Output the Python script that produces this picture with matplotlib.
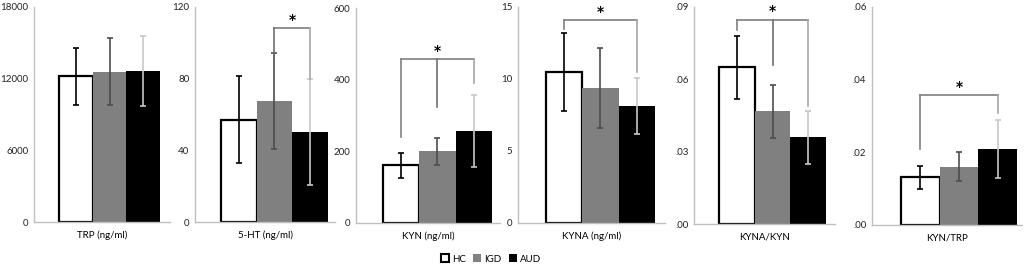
import matplotlib
matplotlib.use("Agg")
import matplotlib.pyplot as plt
from matplotlib.patches import Patch
import numpy as np

plt.rcParams["font.family"] = ["Lato", "DejaVu Sans"]

groups = ["HC", "IGD", "AUD"]
labels = ["TRP (ng/ml)", "5-HT (ng/ml)", "KYN (ng/ml)", "KYNA (ng/ml)", "KYNA/KYN", "KYN/TRP"]

trp_mean = [12200, 12600, 12650]
trp_sd = [2400, 2780, 2900]
ht_mean = [57.2, 67.5, 50.2]
ht_sd = [24.3, 26.8, 29.5]
kyn_mean = [161, 200, 257]
kyn_sd = [35, 37, 100]
kyna_mean = [10.5, 9.4, 8.15]
kyna_sd = [2.7, 2.77, 1.95]
ratio1_mean = [0.065, 0.0467, 0.036]
ratio1_sd = [0.013, 0.011, 0.011]
ratio2_mean = [0.0131, 0.0160, 0.0210]
ratio2_sd = [0.0031, 0.0040, 0.0080]

means = [trp_mean, ht_mean, kyn_mean, kyna_mean, ratio1_mean, ratio2_mean]
sds = [trp_sd, ht_sd, kyn_sd, kyna_sd, ratio1_sd, ratio2_sd]

ymaxs = [18000, 120, 600, 15, 0.09, 0.06]
yticks = [[0, 6000, 12000, 18000], [0, 40, 80, 120], [0, 200, 400, 600],
          [0, 5, 10, 15], [0, 0.03, 0.06, 0.09], [0, 0.02, 0.04, 0.06]]
ytick_labels = [["0", "6000", "12000", "18000"], ["0", "40", "80", "120"],
                ["0", "200", "400", "600"], ["0", "5", "10", "15"],
                [".00", ".03", ".06", ".09"], [".00", ".02", ".04", ".06"]]

# significance brackets: (bar indices, leg bottoms, bracket top)
brackets = [None,
            ([1, 2], [94.5, 80], 108.3),
            ([0, 1, 2], [240, 323, 392], 457),
            ([0, 2], [13.5, 10.5], 14.1),
            ([0, 1, 2], [0.0806, 0.066, 0.049], 0.0847),
            ([0, 2], [0.0209, 0.0309], 0.0357)]

# pixel layout: axis x, first bar x, bar width, right end, baseline y, top y
layout = [(34, 59, 33.7, 170, 222, 7),
          (195, 221, 35.5, 335, 222, 7),
          (356, 383, 36.3, 500, 223, 8),
          (518, 546, 36.3, 665, 223, 7),
          (694, 719, 35.7, 835, 224, 7),
          (872, 901, 38.7, 1022, 225, 7)]

W, H = 1024, 265
fig = plt.figure(figsize=(W / 100, H / 100), dpi=100)

fills = ["white", "#808080", "black"]
err_colors = ["black", "#4d4d4d", "#c8c8c8"]
leg_colors = ["#808080", "#6e6e6e", "#a6a6a6"]
x = np.arange(3)

for i in range(6):
    L, b0, bw, R, yb, yt = layout[i]
    ax = fig.add_axes([L / W, (H - yb) / H, (R - L) / W, (yb - yt) / H])
    for j in range(3):
        ax.bar(x[j], means[i][j], width=1.0, color=fills[j],
               edgecolor="black" if j == 0 else fills[j],
               linewidth=1.6 if j == 0 else 0, zorder=2)
        ax.errorbar(x[j], means[i][j], yerr=sds[i][j], color=err_colors[j],
                    capsize=2.5, elinewidth=1.2, capthick=1.2, zorder=3)
    ax.set_xlim(-0.5 - (b0 - L) / bw, 2.5 + (R - b0 - 3 * bw) / bw)
    ax.set_ylim(0, ymaxs[i])
    ax.set_yticks(yticks[i])
    ax.set_yticklabels(ytick_labels[i])
    ax.set_xticks([])
    ax.tick_params(axis="y", length=0, labelsize=7, pad=4)
    for s in ["top", "right"]:
        ax.spines[s].set_visible(False)
    for s in ["left", "bottom"]:
        ax.spines[s].set_color("#bfbfbf")
        ax.spines[s].set_linewidth(1.0)
    ax.set_xlabel(labels[i], fontsize=7, labelpad=6)

    if brackets[i] is not None:
        idx, legs, top = brackets[i]
        ax.plot([idx[0], idx[-1]], [top, top], color="#7f7f7f", lw=1.2, zorder=4)
        for k, yl in zip(idx, legs):
            ax.plot([k, k], [yl, top], color=leg_colors[k], lw=1.2, zorder=4)
        ax.annotate("*", ((idx[0] + idx[-1]) / 2, top), xytext=(0, 1),
                    textcoords="offset points", ha="center", va="bottom",
                    fontsize=10, fontweight="bold", family="DejaVu Sans")
    for lab in ax.get_yticklabels():
        lab.set_color("#222222")

handles = [Patch(facecolor="white", edgecolor="black", linewidth=1.5),
           Patch(facecolor="#808080"), Patch(facecolor="black")]
fig.legend(handles, groups, loc="center", bbox_to_anchor=(491 / W, 6 / H), ncol=3,
           frameon=False, fontsize=7, handlelength=0.8, handleheight=0.8,
           handletextpad=0.3, columnspacing=0.8, borderpad=0)

fig.savefig("out.png", dpi=100)
